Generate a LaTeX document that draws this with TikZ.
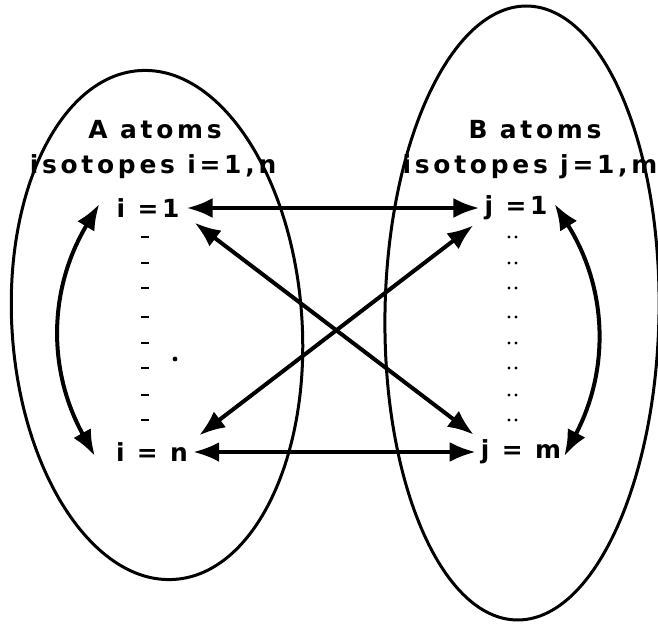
\documentclass[tikz,border=0pt]{standalone}
\usepackage{fontspec}
\setmainfont{DejaVu Sans}[LetterSpace=15]
\usepackage{tikz}
\usetikzlibrary{arrows.meta,positioning,calc}

\begin{document}
\begin{tikzpicture}[
  x=1bp,
  y=-1bp,
  font=\fontsize{25}{30}\selectfont\bfseries,
  set/.style={draw, line width=3bp},
  link/.style={line width=4bp, {Latex[length=26bp,width=20bp]}-{Latex[length=26bp,width=20bp]}},
  lbl/.style={inner sep=1bp},
  tick/.style={line width=1.8bp}
]
  \useasboundingbox (0,0) rectangle (658,626);

  % the two sets
  \draw[set, rotate around={4:(157,325)}] (157,325) ellipse [x radius=145, y radius=255];
  \draw[set, rotate around={-1:(522,313)}] (522,313) ellipse [x radius=137, y radius=307];

  % headings
  \node[lbl] (titA) at (155,130) {A atoms};
  \node[lbl] (isoA) at (153,167) {isotopes i=1,n};
  \node[lbl] (titB) at (535,130) {B atoms};
  \node[lbl] (isoB) at (530,167) {isotopes j=1,m};

  % isotopes
  \node[lbl] (i1) at (148,208) {i =1};
  \node[lbl] (in) at (152,452) {i = n};
  \node[lbl] (j1) at (516,208) {j =1};
  \node[lbl] (jm) at (521,452) {j = m};

  % dotted columns
  \foreach \y in {237,263,288,317,343,368,395,420} {
    \draw[tick] (141,\y) -- (149,\y);
    \fill (509,\y) circle (1.7bp) (516,\y) circle (1.7bp);
  }
  \fill (175,359) circle (2.4bp);

  % links between the sets
  \draw[link] ($(i1.east)+(6,0)$) -- ($(j1.west)+(-4,0)$);
  \draw[link] ($(in.east)+(4,0)$) -- ($(jm.west)+(-4,0)$);
  \draw[link] ($(i1.south east)+(14,4)$) -- ($(jm.north west)+(-6,-4)$);
  \draw[link] ($(in.north east)+(10,-6)$) -- ($(j1.south west)+(-10,4)$);

  % links inside each set
  \draw[link] ($(i1.west)+(-16,-4)$) to[bend right=30] ($(in.west)+(-20,4)$);
  \draw[link] ($(j1.east)+(6,-4)$) to[bend left=30] ($(jm.east)+(2,4)$);
\end{tikzpicture}
\end{document}
